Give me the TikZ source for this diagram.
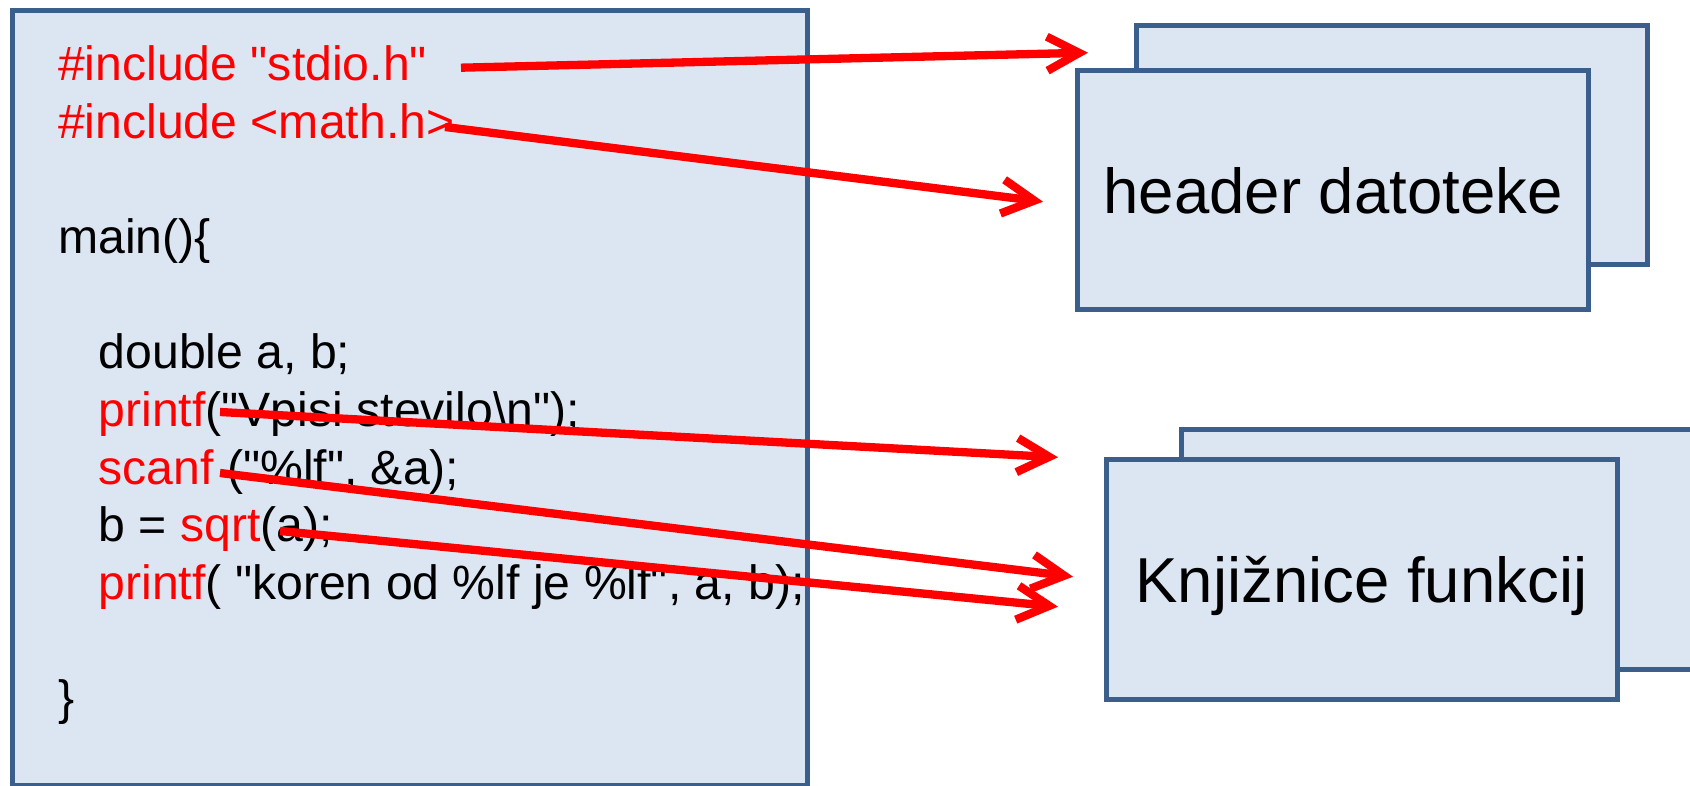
\documentclass[tikz,border=0pt]{standalone}
\usepackage{fontspec}
\setmainfont{Liberation Sans}[Ligatures=TeXOff]
\usetikzlibrary{arrows.meta}

\definecolor{boxline}{HTML}{3A5F8D}
\definecolor{boxfill}{HTML}{DCE6F2}
\newcommand{\kw}[1]{\textcolor{red}{#1}}

\begin{document}
\begin{tikzpicture}
	\tikzstyle{rect}=[draw=boxline, fill=boxfill, line width=0.5mm, rectangle, anchor=north west, minimum width=5.11cm, minimum height=2.395cm, text depth=0pt, font=\fontsize{18.07}{22}\selectfont]
	\tikzstyle{code}=[anchor=base west, inner sep=0pt, font=\fontsize{13.7}{16.4}\selectfont]
	\tikzstyle{link}=[red, line width=0.83mm, -{Straight Barb[length=3.2mm, width=3.4mm]}]

	\useasboundingbox (0,0) rectangle (16.90,-7.86);

	% program listing
	\node[rect, minimum width=7.95cm, minimum height=7.75cm] (prog) at (0.10,-0.08) {};
	\node[code] (inc1) at (0.575,-0.807) {\kw{\#include "stdio.h"}};
	\node[code] (inc2) at (0.575,-1.3835) {\kw{\#include <math.h>}};
	\node[code] (main) at (0.575,-2.5365) {main()\{};
	\node[code] (decl) at (0.98,-3.6895) {double a, b;};
	\node[code] (out1) at (0.98,-4.266) {\kw{printf}("Vpisi stevilo\textbackslash n");};
	\node[code] (in) at (0.98,-4.8425) {\kw{scanf} ("\%lf", \&a);};
	\node[code] (calc) at (0.98,-5.419) {b = \kw{sqrt}(a);};
	\node[code] (out2) at (0.98,-5.9955) {\kw{printf}( "koren od \%lf je \%lf", a, b);};
	\node[code] (close) at (0.575,-7.1485) {\}};

	% stacked boxes
	\node[rect] (hdrback) at (11.34,-0.227) {};
	\node[rect] (hdr) at (10.75,-0.68) {header datoteke};
	\node[rect] (libback) at (11.785,-4.27) {};
	\node[rect] (lib) at (11.035,-4.57) {Knjižnice funkcij};

	% arrow ends
	\coordinate (stdio) at (4.61,-0.677);
	\coordinate (math) at (4.45,-1.27);
	\coordinate (pf) at (2.20,-4.12);
	\coordinate (sf) at (2.20,-4.73);
	\coordinate (sq) at (2.80,-5.31);
	\coordinate (hdr1) at (10.88,-0.527);
	\coordinate (hdr2) at (10.43,-2.017);
	\coordinate (fn1) at (10.58,-4.573);
	\coordinate (fn2) at (10.73,-5.767);
	\coordinate (fn3) at (10.58,-6.067);

	\draw[link] (stdio) -- (hdr1);
	\draw[link] (math) -- (hdr2);
	\draw[link] (pf) -- (fn1);
	\draw[link] (sf) -- (fn2);
	\draw[link] (sq) -- (fn3);
\end{tikzpicture}
\end{document}
